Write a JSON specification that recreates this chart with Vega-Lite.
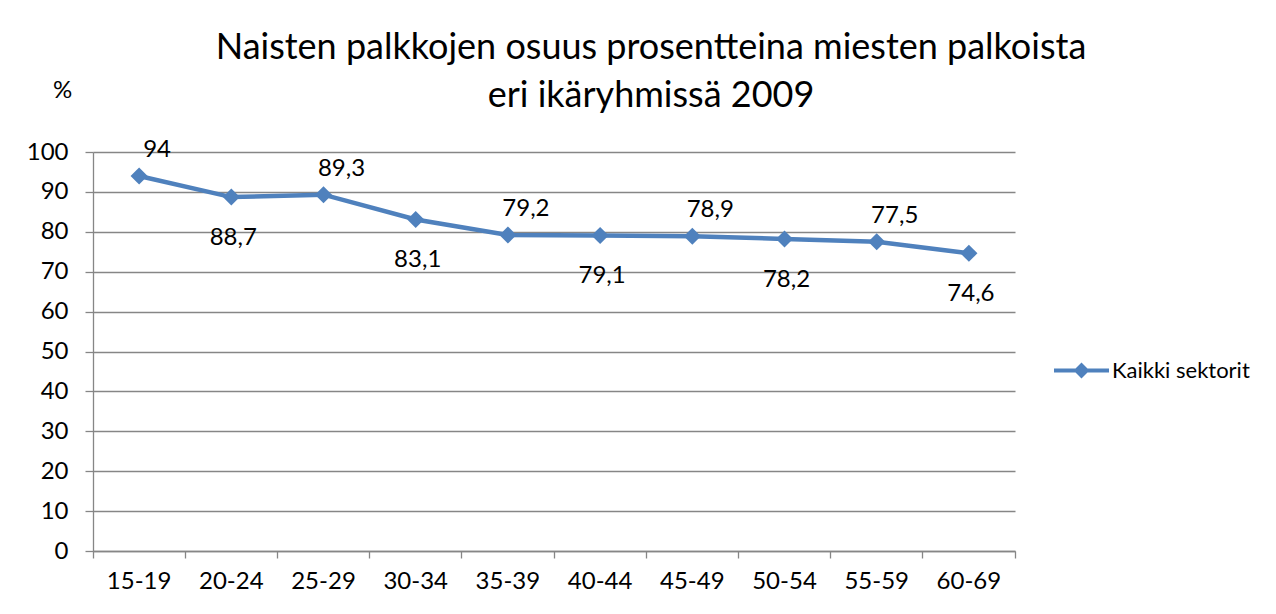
{
  "$schema": "https://vega.github.io/schema/vega-lite/v6.json",
  "width": 922,
  "height": 399,
  "autosize": "none",
  "padding": {"left": 93, "top": 152, "right": 261, "bottom": 63},
  "background": "white",
  "config": {
    "font": "Lato",
    "view": {"stroke": null},
    "locale": {"number": {"decimal": ",", "thousands": "\u00a0", "grouping": [3], "currency": ["", " €"]}}
  },
  "title": {
    "text": ["Naisten palkkojen osuus prosentteina miesten palkoista", "eri ikäryhmissä 2009"],
    "fontSize": 36,
    "fontWeight": "normal",
    "color": "black",
    "lineHeight": 48,
    "anchor": "middle",
    "frame": "group",
    "dx": 97,
    "dy": 73,
    "offset": 36
  },
  "data": {
    "values": [
      {"age": "15-19", "value": 94, "series": "Kaikki sektorit"},
      {"age": "20-24", "value": 88.7, "series": "Kaikki sektorit"},
      {"age": "25-29", "value": 89.3, "series": "Kaikki sektorit"},
      {"age": "30-34", "value": 83.1, "series": "Kaikki sektorit"},
      {"age": "35-39", "value": 79.2, "series": "Kaikki sektorit"},
      {"age": "40-44", "value": 79.1, "series": "Kaikki sektorit"},
      {"age": "45-49", "value": 78.9, "series": "Kaikki sektorit"},
      {"age": "50-54", "value": 78.2, "series": "Kaikki sektorit"},
      {"age": "55-59", "value": 77.5, "series": "Kaikki sektorit"},
      {"age": "60-69", "value": 74.6, "series": "Kaikki sektorit"}
    ]
  },
  "encoding": {
    "x": {
      "field": "age",
      "type": "nominal",
      "sort": null,
      "scale": {"type": "band", "paddingInner": 0, "paddingOuter": 0},
      "axis": {
        "title": null,
        "labelAngle": 0,
        "bandPosition": 1,
        "tickExtra": true,
        "grid": false,
        "domainColor": "#868686",
        "domainWidth": 1.3,
        "tickColor": "#868686",
        "tickWidth": 1.3,
        "tickSize": 7,
        "labelFontSize": 24,
        "labelColor": "black",
        "labelPadding": 11
      }
    },
    "y": {
      "field": "value",
      "type": "quantitative",
      "scale": {"domain": [0, 100], "nice": false, "zero": true},
      "axis": {
        "title": "%",
        "titleAngle": 0,
        "titleX": -31,
        "titleY": -62,
        "titleAlign": "center",
        "titleBaseline": "middle",
        "titleFontSize": 24,
        "titleFontWeight": "normal",
        "titleColor": "black",
        "values": [0, 10, 20, 30, 40, 50, 60, 70, 80, 90, 100],
        "grid": true,
        "gridColor": "#868686",
        "gridWidth": 1.3,
        "domainColor": "#868686",
        "domainWidth": 1.3,
        "tickColor": "#868686",
        "tickWidth": 1.3,
        "tickSize": 8,
        "labelFontSize": 24,
        "labelColor": "black",
        "labelPadding": 17
      }
    }
  },
  "layer": [
    {
      "mark": {"type": "line", "color": "#4F81BD", "strokeWidth": 4.5}
    },
    {
      "mark": {"type": "point", "shape": "diamond", "filled": true, "size": 290, "opacity": 1},
      "encoding": {
        "color": {
          "field": "series",
          "type": "nominal",
          "scale": {"range": ["#4F81BD"]},
          "legend": {
            "title": null,
            "orient": "none",
            "legendX": 960,
            "legendY": 190,
            "padding": 0,
            "labelFontSize": 22,
            "labelColor": "black",
            "labelOffset": 2,
            "symbolSize": 3025,
            "symbolType": "M-1,-0.075L1,-0.075L1,0.075L-1,0.075Z M0,-0.29L0.29,0L0,0.29L-0.29,0Z",
            "encode": {
              "symbols": {
                "update": {
                  "fill": {"value": "#4F81BD"},
                  "stroke": {"value": "#4F81BD"},
                  "strokeWidth": {"value": 0},
                  "opacity": {"value": 1},
                  "shape": {"value": "M-1,-0.075L1,-0.075L1,0.075L-1,0.075Z M0,-0.29L0.29,0L0,0.29L-0.29,0Z"},
                  "size": {"value": 3025}
                }
              }
            }
          }
        }
      }
    },
    {
      "transform": [{"filter": {"field": "age", "oneOf": ["15-19", "25-29", "35-39", "45-49", "55-59"]}}],
      "mark": {"type": "text", "align": "center", "baseline": "middle", "dx": 18, "dy": -26, "fontSize": 24, "color": "black"},
      "encoding": {"text": {"field": "value", "type": "quantitative", "format": "~g"}}
    },
    {
      "transform": [{"filter": {"field": "age", "oneOf": ["20-24", "30-34", "40-44", "50-54", "60-69"]}}],
      "mark": {"type": "text", "align": "center", "baseline": "middle", "dx": 2, "dy": 41, "fontSize": 24, "color": "black"},
      "encoding": {"text": {"field": "value", "type": "quantitative", "format": "~g"}}
    }
  ]
}
